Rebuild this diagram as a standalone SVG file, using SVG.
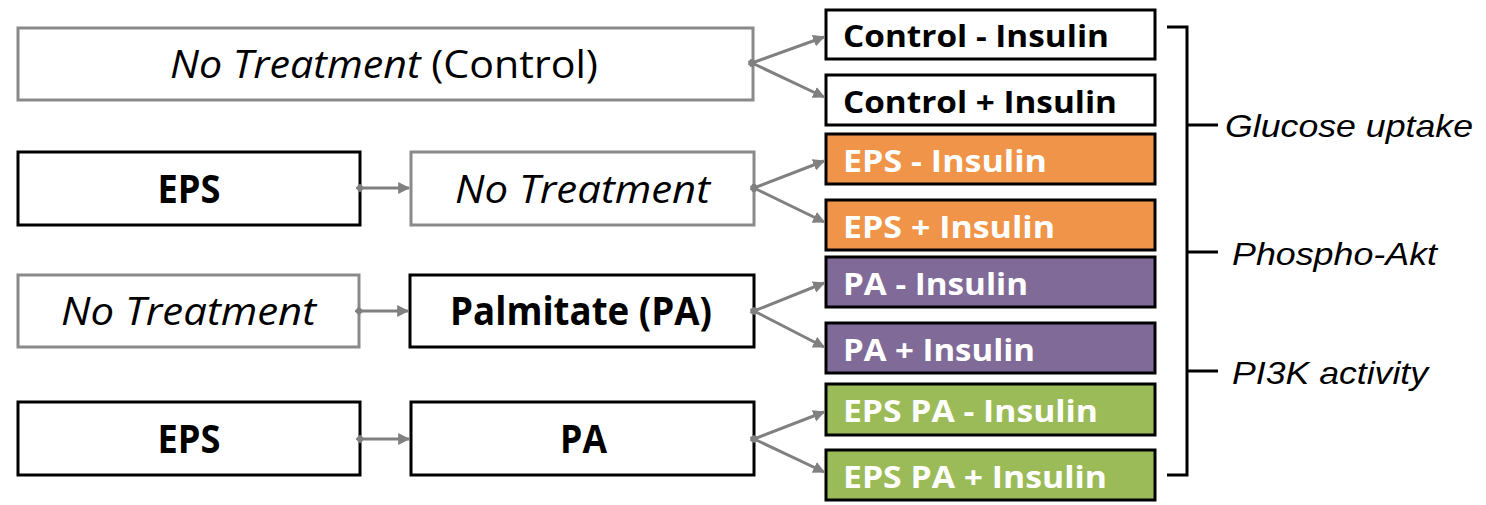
<svg xmlns="http://www.w3.org/2000/svg" width="1486" height="505" viewBox="0 0 1486 505">
<defs>
<marker id="arr" viewBox="0 0 10 10" refX="9" refY="5" markerWidth="4" markerHeight="4" orient="auto" markerUnits="strokeWidth">
<path d="M0,0 L10,5 L0,10 z" fill="#808080"/>
</marker>
<marker id="dot" viewBox="0 0 10 10" refX="5" refY="5" markerWidth="3" markerHeight="3" orient="auto" markerUnits="strokeWidth">
<path d="M5,0 L10,5 L5,10 L0,5 z" fill="#808080"/>
</marker>
</defs>
<style>
.gbox{fill:#fff;stroke:#8a8a8a;stroke-width:3}
.bbox{fill:#fff;stroke:#000;stroke-width:3}
.obox{fill:#F0944A;stroke:#000;stroke-width:3}
.pbox{fill:#806A98;stroke:#000;stroke-width:3}
.vbox{fill:#9BBB59;stroke:#000;stroke-width:3}
.big{font-family:"Open Sans",Lato,"Liberation Sans",sans-serif;font-size:39px;fill:#000;text-anchor:middle}
.b{font-weight:bold}
.i{font-style:italic}
.sm{font-family:"Open Sans",Lato,"Liberation Sans",sans-serif;font-size:31px;font-weight:bold}
.w{fill:#fff}
.k{fill:#000}
.conn{stroke:#808080;stroke-width:3;fill:none;marker-end:url(#arr);marker-start:url(#dot)}
.br{stroke:#000;stroke-width:3;fill:none}
.lab{font-family:"Liberation Sans",Arial,sans-serif;font-style:italic;font-size:32px;fill:#000}
</style>
<g id="n-control">
<rect class="gbox" x="18" y="28" width="735" height="72"/>
<text class="big" x="384" y="78" textLength="428" lengthAdjust="spacingAndGlyphs"><tspan class="i">No Treatment</tspan> (Control)</text>
</g>
<g id="n-eps1">
<rect class="bbox" x="18" y="152" width="342" height="73"/>
<text class="big b" x="189" y="203" textLength="63" lengthAdjust="spacingAndGlyphs">EPS</text>
</g>
<g id="n-nt2">
<rect class="gbox" x="411" y="152" width="343" height="73"/>
<text class="big i" x="582.5" y="203" textLength="255" lengthAdjust="spacingAndGlyphs">No Treatment</text>
</g>
<g id="n-nt3">
<rect class="gbox" x="18" y="275" width="341" height="72"/>
<text class="big i" x="188.5" y="325" textLength="255" lengthAdjust="spacingAndGlyphs">No Treatment</text>
</g>
<g id="n-pa1">
<rect class="bbox" x="410" y="275" width="344" height="72"/>
<text class="big b" x="581" y="325" textLength="262" lengthAdjust="spacingAndGlyphs">Palmitate (PA)</text>
</g>
<g id="n-eps2">
<rect class="bbox" x="18" y="402" width="342" height="73"/>
<text class="big b" x="189" y="453" textLength="63" lengthAdjust="spacingAndGlyphs">EPS</text>
</g>
<g id="n-pa2">
<rect class="bbox" x="411" y="402" width="343" height="73"/>
<text class="big b" x="583.5" y="453" textLength="47" lengthAdjust="spacingAndGlyphs">PA</text>
</g>
<g id="r1"><rect class="bbox" x="826" y="10" width="329" height="49"/><text class="sm k" x="843" y="47" textLength="266" lengthAdjust="spacingAndGlyphs">Control - Insulin</text></g>
<g id="r2"><rect class="bbox" x="826" y="75" width="329" height="50"/><text class="sm k" x="843" y="113" textLength="274" lengthAdjust="spacingAndGlyphs">Control + Insulin</text></g>
<g id="r3"><rect class="obox" x="826" y="134" width="329" height="50"/><text class="sm w" x="843" y="172" textLength="204" lengthAdjust="spacingAndGlyphs">EPS - Insulin</text></g>
<g id="r4"><rect class="obox" x="826" y="200" width="329" height="50"/><text class="sm w" x="843" y="238" textLength="212" lengthAdjust="spacingAndGlyphs">EPS + Insulin</text></g>
<g id="r5"><rect class="pbox" x="826" y="257" width="329" height="50"/><text class="sm w" x="843" y="295" textLength="185" lengthAdjust="spacingAndGlyphs">PA - Insulin</text></g>
<g id="r6"><rect class="pbox" x="826" y="323" width="329" height="50"/><text class="sm w" x="843" y="361" textLength="192" lengthAdjust="spacingAndGlyphs">PA + Insulin</text></g>
<g id="r7"><rect class="vbox" x="826" y="384" width="329" height="51"/><text class="sm w" x="843" y="422" textLength="255" lengthAdjust="spacingAndGlyphs">EPS PA - Insulin</text></g>
<g id="r8"><rect class="vbox" x="826" y="450" width="329" height="50"/><text class="sm w" x="843" y="488" textLength="264" lengthAdjust="spacingAndGlyphs">EPS PA + Insulin</text></g>
<g id="connectors">
<path class="conn" d="M752,63 L824,37"/>
<path class="conn" d="M752,63 L824,97"/>
<path class="conn" d="M360,188 L409,188"/>
<path class="conn" d="M754,188 L824,161"/>
<path class="conn" d="M754,188 L824,222"/>
<path class="conn" d="M359,311 L408,311"/>
<path class="conn" d="M754,311 L824,283"/>
<path class="conn" d="M754,311 L824,347"/>
<path class="conn" d="M360,439 L409,439"/>
<path class="conn" d="M754,439 L824,412"/>
<path class="conn" d="M754,439 L824,472"/>
</g>
<g id="bracket">
<path class="br" d="M1167,27 H1187 V475 H1167 M1187,125 H1218 M1187,252 H1218 M1187,371 H1218"/>
<text class="lab" x="1225" y="137" textLength="248" lengthAdjust="spacingAndGlyphs">Glucose  uptake</text>
<text class="lab" x="1232" y="265" textLength="205" lengthAdjust="spacingAndGlyphs">Phospho-Akt</text>
<text class="lab" x="1232" y="384" textLength="196" lengthAdjust="spacingAndGlyphs">PI3K  activity</text>
</g>
</svg>
